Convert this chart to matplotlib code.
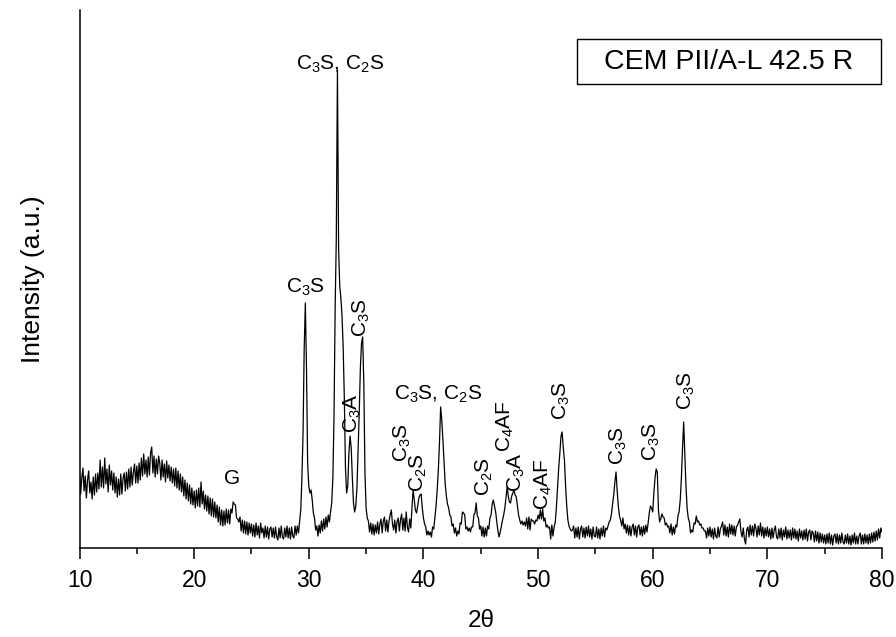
import numpy as np
import matplotlib
matplotlib.use("Agg")
import matplotlib.pyplot as plt
from matplotlib.patches import Rectangle

plt.rcParams["font.family"] = "Liberation Sans"
plt.rcParams["mathtext.fontset"] = "custom"
plt.rcParams["mathtext.rm"] = "Liberation Sans"
plt.rcParams["mathtext.it"] = "Liberation Sans:italic"
plt.rcParams["mathtext.bf"] = "Liberation Sans:bold"

# XRD scan, 0.1 deg step starting at 10 deg (intensity in a.u.)
step = 0.1
counts_10_20 = [
    76, 54, 70, 80, 57, 72, 50, 68, 77, 55,
    66, 49, 71, 53, 74, 56, 75, 59, 88, 61,
    81, 60, 90, 64, 79, 56, 83, 63, 77, 58,
    75, 55, 71, 51, 69, 53, 74, 54, 70, 75,
    57, 76, 59, 79, 61, 81, 63, 76, 84, 65,
    82, 65, 85, 68, 90, 72, 94, 74, 88, 71,
    91, 73, 95, 101, 75, 92, 71, 89, 74, 92,
    85, 68, 88, 71, 84, 66, 87, 70, 83, 67,
    81, 65, 79, 62, 80, 60, 77, 58, 74, 56,
    71, 52, 68, 49, 65, 47, 63, 44, 60, 43,
]
counts_20_30 = [
    57, 40, 58, 42, 60, 41, 66, 44, 57, 39,
    53, 37, 52, 34, 50, 32, 49, 31, 46, 30,
    43, 26, 41, 23, 38, 22, 37, 23, 39, 25,
    38, 24, 39, 35, 46, 44, 43, 30, 29, 26,
    31, 17, 28, 15, 27, 14, 26, 13, 25, 15,
    24, 12, 23, 11, 25, 13, 22, 10, 25, 15,
    20, 10, 22, 11, 21, 9, 19, 21, 11, 20,
    10, 21, 11, 8, 20, 10, 22, 11, 9, 20,
    11, 22, 10, 20, 9, 21, 12, 10, 22, 13,
    22, 15, 26, 38, 70, 115, 200, 245, 180, 85,
]
counts_30_40 = [
    62, 55, 58, 48, 35, 30, 18, 22, 12, 23,
    15, 27, 17, 29, 19, 31, 21, 33, 26, 36,
    45, 70, 131, 240, 310, 478, 300, 262, 250, 232,
    200, 150, 80, 55, 62, 95, 112, 100, 70, 45,
    36, 42, 60, 98, 135, 180, 205, 211, 165, 75,
    40, 30, 27, 16, 25, 14, 24, 13, 23, 15,
    26, 14, 24, 29, 15, 27, 31, 17, 28, 16,
    27, 33, 38, 24, 18, 28, 15, 26, 30, 17,
    28, 34, 18, 30, 17, 36, 21, 16, 29, 20,
    40, 58, 48, 38, 35, 42, 50, 53, 54, 40,
]
counts_40_50 = [
    30, 24, 21, 13, 17, 13, 16, 11, 21, 19,
    30, 42, 58, 78, 105, 141, 128, 108, 85, 64,
    52, 44, 40, 33, 31, 22, 24, 15, 20, 12,
    17, 14, 25, 24, 36, 35, 33, 19, 21, 17,
    20, 16, 21, 21, 33, 35, 45, 32, 30, 19,
    22, 12, 21, 11, 20, 12, 22, 19, 30, 33,
    44, 48, 42, 36, 26, 17, 11, 16, 22, 28,
    33, 40, 50, 61, 52, 46, 45, 52, 55, 58,
    53, 51, 42, 33, 28, 24, 27, 23, 26, 22,
    30, 19, 31, 18, 29, 27, 27, 24, 28, 27,
]
counts_50_60 = [
    33, 29, 38, 29, 39, 27, 30, 21, 23, 20,
    21, 9, 23, 12, 21, 26, 41, 60, 80, 95,
    112, 116, 100, 88, 62, 42, 28, 22, 19, 17,
    18, 22, 10, 20, 11, 21, 9, 19, 22, 11,
    20, 10, 21, 12, 22, 11, 19, 9, 21, 12,
    11, 21, 10, 19, 9, 20, 12, 22, 11, 20,
    18, 22, 26, 28, 34, 44, 53, 66, 76, 57,
    42, 32, 28, 22, 30, 19, 24, 15, 23, 13,
    22, 12, 21, 24, 13, 22, 11, 21, 23, 13,
    21, 12, 22, 14, 23, 16, 25, 35, 42, 40,
]
counts_60_70 = [
    36, 55, 70, 79, 76, 38, 26, 29, 34, 31,
    30, 23, 25, 21, 22, 15, 24, 13, 21, 14,
    23, 21, 32, 36, 48, 70, 100, 126, 95, 62,
    40, 30, 26, 15, 18, 16, 25, 24, 32, 26,
    27, 23, 24, 20, 20, 17, 17, 10, 20, 12,
    21, 11, 19, 9, 20, 12, 10, 21, 11, 19,
    22, 26, 13, 23, 12, 21, 11, 24, 14, 23,
    13, 22, 12, 21, 23, 26, 29, 16, 11, 20,
    9, 4, 18, 21, 11, 23, 13, 22, 12, 24,
    20, 11, 22, 13, 25, 12, 21, 10, 20, 12,
]
counts_70_80 = [
    21, 11, 19, 9, 20, 10, 18, 22, 11, 9,
    19, 10, 20, 8, 18, 11, 21, 9, 18, 10,
    18, 8, 20, 10, 19, 9, 17, 7, 19, 10,
    17, 8, 18, 9, 19, 7, 16, 18, 8, 17,
    15, 6, 17, 7, 16, 5, 15, 6, 14, 5,
    13, 4, 14, 5, 15, 4, 13, 3, 12, 14,
    5, 14, 4, 13, 5, 15, 6, 4, 13, 5,
    14, 4, 12, 3, 13, 5, 15, 4, 12, 4,
    12, 15, 4, 13, 4, 14, 5, 13, 4, 14,
    5, 15, 6, 16, 7, 17, 8, 19, 10, 20,
    16,
]

counts = np.concatenate([counts_10_20, counts_20_30, counts_30_40,
                         counts_40_50, counts_50_60, counts_60_70,
                         counts_70_80]).astype(float)
two_theta = 10.0 + step * np.arange(counts.size)

# phase identification: label, 2theta, height, rotation
phase_labels = [
    (r"C$_3$S", 29.68, 261, 0),
    (r"C$_3$S, C$_2$S", 32.73, 484, 0),
    (r"C$_3$A", 33.78, 135, 90),
    (r"C$_3$S", 34.56, 230, 90),
    (r"C$_3$S", 38.14, 105, 90),
    (r"C$_2$S", 39.54, 75, 90),
    (r"C$_3$S, C$_2$S", 41.28, 154, 0),
    (r"C$_2$S", 45.30, 71, 90),
    (r"C$_4$AF", 47.13, 122, 90),
    (r"C$_3$A", 48.09, 76, 90),
    (r"C$_4$AF", 50.44, 64, 90),
    (r"C$_3$S", 52.02, 147, 90),
    (r"C$_3$S", 57.00, 102, 90),
    (r"C$_3$S", 59.88, 106, 90),
    (r"C$_3$S", 62.94, 157, 90),
    ("G", 23.31, 70, 0),
]

W, H = 896, 637
fig = plt.figure(figsize=(W / 100, H / 100), dpi=100)
ax = fig.add_axes([79.5 / W, 1 - 548 / H, 802.5 / W, 538 / H])

ax.plot(two_theta, counts, color="black", lw=0.9)
ax.set_xlim(10, 80)
ax.set_ylim(0, 538)

for s in ("top", "right"):
    ax.spines[s].set_visible(False)
for s in ("left", "bottom"):
    ax.spines[s].set_linewidth(1.1)

ax.set_yticks([])
ax.set_xticks(np.arange(10, 81, 10))
ax.set_xticks(np.arange(15, 80, 10), minor=True)
ax.tick_params(axis="x", which="major", direction="out", length=8,
               width=1.1, pad=7, labelsize=16.5)
ax.tick_params(axis="x", which="minor", direction="out", length=4, width=1.1)

ax.set_xlabel("2θ", fontsize=17.5, labelpad=13)
ax.text(-0.058, 0.5, "Intensity (a.u.)", transform=ax.transAxes,
        rotation=90, ha="center", va="center", fontsize=19)

for text, x, y, rot in phase_labels:
    ax.text(x, y, text, rotation=rot, ha="center", va="center", fontsize=15)

ax.add_patch(Rectangle((0.620, 0.8625), 0.379, 0.0835, transform=ax.transAxes,
                       fill=False, edgecolor="black", lw=1.0, clip_on=False))
ax.text(0.809, 0.904, "CEM PII/A-L 42.5 R", transform=ax.transAxes,
        ha="center", va="center", fontsize=20.5)

fig.savefig("out.png", dpi=100)
